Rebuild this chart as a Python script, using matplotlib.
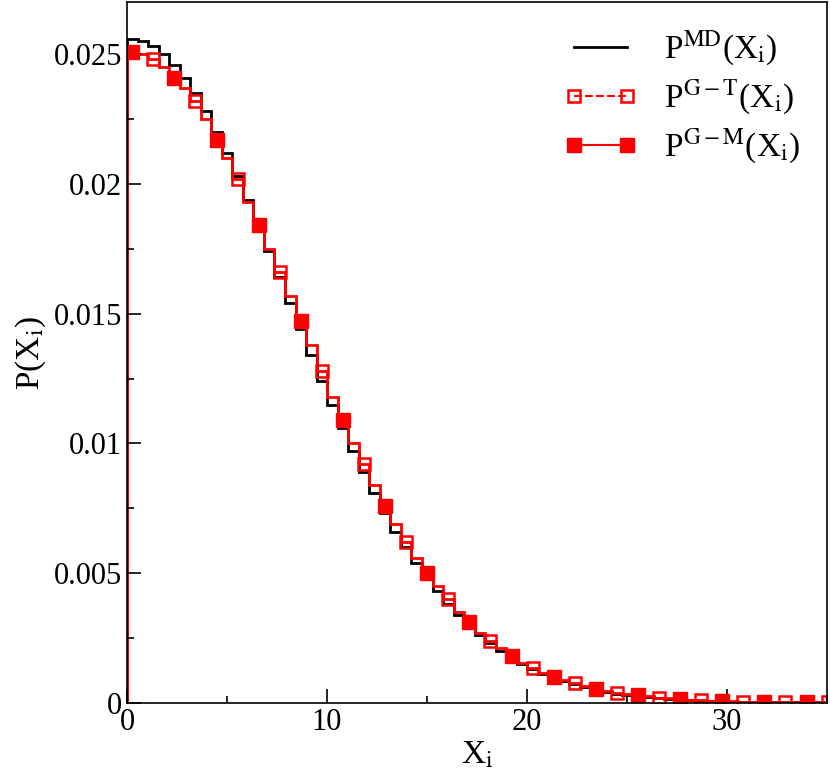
import numpy as np
import matplotlib
matplotlib.use('Agg')
import matplotlib.pyplot as plt
from matplotlib.lines import Line2D
from matplotlib.ticker import FixedLocator, FuncFormatter

plt.rcParams['font.family'] = ['Liberation Serif', 'DejaVu Serif']
plt.rcParams['mathtext.fontset'] = 'stix'

bin_width = 0.527
p_gm = [251,250,248,245,241,237,232,225,217,210,
        202,193,184,175,166,157,147,138,128,118,
        109,100,92,84,76,69,62,56,50,45,
        40,35,31,27,24,21,18,15.5,13.5,11.7,
        10,8.7,7.5,6.5,5.5,4.6,3.8,3.4,3,2.5,
        2,1.7,1.5,1.2,1,0.9,0.8,0.6,0.5,0.45,
        0.4,0.35,0.3,0.3,0.3,0.25,0.2]
p_md = [256,255,253,250,246,241,235,228,220,212,
        203,194,184,174,164,154,144,134,124,115,
        106,97,89,81,73,66,60,54,48,43,
        38,34,30,26,23,20,17.5,15,13,11.2,
        9.6,8.3,7.1,6,5.1,4.3,3.6,3.1,2.6,2.2,
        1.8,1.5,1.3,1.1,0.9,0.8,0.6,0.5,0.45,0.4,
        0.35,0.3,0.3,0.25,0.25,0.2,0.2]
p_gm = np.array(p_gm) * 1e-4
p_md = np.array(p_md) * 1e-4
n = len(p_gm)
edges = np.arange(n + 1) * bin_width
centers = edges[:-1] + bin_width / 2

fig = plt.figure(figsize=(8.30, 7.81), dpi=100)
ax = fig.add_axes([0.153, 0.1, 0.843, 0.897])

ax.stairs(p_md, edges, color='black', lw=2)
ax.stairs(p_gm, edges, color='red', lw=2)
idx_f = np.arange(0, n, 4)
idx_o = np.arange(2, n, 4)
ax.plot(centers[idx_f], p_gm[idx_f], 's', color='red', ms=10, ls='none')
ax.plot(centers[idx_o], p_gm[idx_o], 's', mfc='none', mec='red', mew=1.8, ms=9, ls='none')

ax.set_xlim(0, 35)
ax.set_ylim(0, 0.027)
ax.xaxis.set_major_locator(FixedLocator([0, 10, 20, 30]))
ax.xaxis.set_minor_locator(FixedLocator([5, 15, 25, 35]))
ax.yaxis.set_major_locator(FixedLocator([0, 0.005, 0.01, 0.015, 0.02, 0.025]))
ax.yaxis.set_minor_locator(FixedLocator([0.0025, 0.0075, 0.0125, 0.0175, 0.0225]))
ax.yaxis.set_major_formatter(FuncFormatter(lambda v, p: '0' if v == 0 else ('%g' % v)))
ax.tick_params(which='both', direction='in', labelsize=22, width=1.2)
ax.tick_params(which='major', length=10)
ax.tick_params(which='minor', length=5)
for s in ax.spines.values():
    s.set_linewidth(1.2)
ax.set_xlabel(r'X$_{\rm i}$', fontsize=24, labelpad=2)
ax.set_ylabel(r'P(X$_{\rm i}$)', fontsize=24, labelpad=4)

handles = [Line2D([], [], color='black', lw=2),
           Line2D([], [], color='red', lw=1.5, ls='--', marker='s', mfc='none', mew=1.8, ms=9),
           Line2D([], [], color='red', lw=1.5, marker='s', ms=10)]
labels = [r'P$^{\rm MD}$(X$_{\rm i}$)', r'P$^{\rm G-T}$(X$_{\rm i}$)', r'P$^{\rm G-M}$(X$_{\rm i}$)']
leg = ax.legend(handles, labels, loc='upper right', frameon=False, fontsize=24,
                handlelength=2.2, numpoints=2, borderaxespad=0.4, labelspacing=0.3)
fig.savefig('out.png', dpi=100)
